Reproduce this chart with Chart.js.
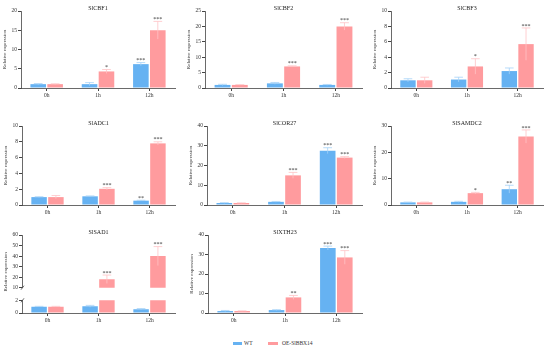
<!DOCTYPE html>
<html>
<head>
<meta charset="utf-8">
<script src="https://cdn.jsdelivr.net/npm/chart.js@4.4.1/dist/chart.umd.min.js"></script>
<style>
  html, body { margin: 0; padding: 0; background: #fff; }
  #wrap { position: relative; width: 550px; height: 350px; overflow: hidden; }
  .leg { position: absolute; font: 5.5px 'Liberation Serif', serif; color: #333; line-height: 6px; }
  .sw { position: absolute; height: 3px; }
</style>
</head>
<body>
<div id="wrap">
  <div class="sw" style="left:233px;top:342px;width:9px;background:#66b2f2"></div>
  <div class="leg" style="left:244px;top:340px">WT</div>
  <div class="sw" style="left:268px;top:342px;width:10px;background:#ff9b9e"></div>
  <div class="leg" style="left:282px;top:340px">OE-SlBBX14</div>
</div>
<script>
// data
const categories = ['0h', '1h', '12h'];
const geneNames = ['SlCBF1', 'SlCBF2', 'SlCBF3', 'SlADC1', 'SlCOR27', 'SlSAMDC2', 'SlSAD1', 'SlXTH23'];

const wtMean = [[1.0, 1.0, 6.2], [1.0, 1.5, 1.0], [1.0, 1.1, 2.2], [1.0, 1.1, 0.55],
                [1.0, 1.6, 27.5], [1.0, 1.2, 6.0], [1.0, 1.05, 0.6], [1.0, 1.5, 33.3]];
const wtErr  = [[0.15, 0.4, 0.4], [0.2, 0.3, 0.15], [0.2, 0.3, 0.4], [0.05, 0.05, 0.05],
                [0.2, 0.2, 1.5], [0.1, 0.2, 1.5], [0.05, 0.15, 0.1], [0.3, 0.2, 1.0]];
const oeMean = [[1.0, 4.3, 15.0], [1.0, 7.0, 20.0], [1.0, 2.8, 5.7], [1.0, 2.05, 7.8],
                [1.0, 15.0, 24.0], [1.0, 4.5, 26.0], [1.0, 18.0, 40.0], [1.0, 8.0, 28.5]];
const oeErr  = [[0.1, 0.5, 2.3], [0.1, 0.2, 1.2], [0.4, 1.0, 2.1], [0.2, 0.15, 0.2],
                [0.1, 1.5, 0.5], [0.1, 0.3, 2.5], [0.05, 4.0, 9.0], [0.1, 1.0, 3.5]];
const wtSig  = [['', '', '***'], ['', '', ''], ['', '', ''], ['', '', '**'],
                ['', '', '***'], ['', '', '**'], ['', '', ''], ['', '', '***']];
const oeSig  = [['', '*', '***'], ['', '***', '***'], ['', '*', '***'], ['', '***', '***'],
                ['', '***', '***'], ['', '*', '***'], ['', '***', '***'], ['', '**', '***']];
const yMax   = [20, 25, 10, 10, 40, 30, 60, 40];
const yStep  = [5, 5, 2, 2, 10, 10, 10, 10];
// broken axis for SlSAD1
const sadLowMax = 2, sadLowStep = 1, sadHighMin = 10;

// chart area boxes [left, top, right, bottom]
const boxes = [[21, 11, 175, 88], [205, 11, 362, 88], [391, 11, 543, 88],
               [22, 126, 175, 205], [207, 126, 362, 205], [391, 126, 543, 205],
               [22, 235, 175, 313], [208, 235, 362, 313]];

const blue = '#66b2f2', pink = '#ff9b9e';
const blueErr = '#a5d2f8', pinkErr = '#ffc3c5';
const axisCol = '#444';
Chart.defaults.font.family = "'Liberation Serif', serif";

const decor = {
  id: 'decor',
  afterDatasetsDraw(chart) {
    const o = chart.options.plugins.decor;
    const ctx = chart.ctx, ca = chart.chartArea, y = chart.scales.y;
    ctx.save();
    ctx.beginPath();
    ctx.rect(ca.left, ca.top - 1, ca.right - ca.left, ca.bottom - ca.top + 1);
    ctx.clip();
    chart.data.datasets.forEach((ds, i) => {
      chart.getDatasetMeta(i).data.forEach((bar, j) => {
        const v = ds.data[j], e = ds.errs[j];
        const yTop = y.getPixelForValue(v + e), yLo = y.getPixelForValue(v - e);
        const half = bar.width * 0.28;
        ctx.strokeStyle = ds.errColor;
        ctx.lineWidth = 0.8;
        ctx.beginPath();
        ctx.moveTo(bar.x, yLo);
        ctx.lineTo(bar.x, yTop);
        ctx.moveTo(bar.x - half, yTop);
        ctx.lineTo(bar.x + half, yTop);
        ctx.stroke();
      });
    });
    ctx.restore();

    ctx.save();
    if (o.stars) {
      ctx.fillStyle = '#333';
      ctx.font = "6px 'Liberation Serif'";
      ctx.textAlign = 'center';
      ctx.textBaseline = 'bottom';
      chart.data.datasets.forEach((ds, i) => {
        chart.getDatasetMeta(i).data.forEach((bar, j) => {
          if (!ds.sig[j]) return;
          const yTop = y.getPixelForValue(ds.data[j] + ds.errs[j]);
          ctx.fillText(ds.sig[j], bar.x, yTop + 1);
        });
      });
    }
    if (o.title) {
      ctx.fillStyle = '#222';
      ctx.font = "6px 'Liberation Serif'";
      ctx.textAlign = 'center';
      ctx.textBaseline = 'middle';
      ctx.fillText(o.title, (ca.left + ca.right) / 2, ca.top - 3);
    }
    if (o.yTitle) {
      ctx.translate(ca.left - 16, (ca.top + ca.bottom + (o.yExtra || 0)) / 2);
      ctx.rotate(-Math.PI / 2);
      ctx.fillStyle = '#333';
      ctx.font = "5px 'Liberation Serif'";
      ctx.textAlign = 'center';
      ctx.textBaseline = 'middle';
      ctx.fillText('Relative expression', 0, 0);
      ctx.setTransform(1, 0, 0, 1, 0, 0);
    }
    if (o.brk) {
      const by = o.brk === 'top' ? ca.top : ca.bottom;
      ctx.strokeStyle = axisCol;
      ctx.lineWidth = 0.8;
      ctx.beginPath();
      ctx.moveTo(ca.left - 1, by + 2);
      ctx.lineTo(ca.left + 2, by - 2);
      ctx.stroke();
    }
    ctx.restore();
  }
};

const wrap = document.getElementById('wrap');
function addCanvas(left, top, w, h) {
  const c = document.createElement('canvas');
  c.width = w; c.height = h;
  c.style.cssText = `position:absolute;left:${left}px;top:${top}px;width:${w}px;height:${h}px`;
  wrap.appendChild(c);
  return c;
}

function drawPanel(g, box, cfg) {
  const [L, T, R, B] = box;
  const padTop = cfg.padTop, padBottom = cfg.padBottom || 0;
  const xH = cfg.showX ? 14 : 0;
  const canvas = addCanvas(L - 22, T - padTop, R - L + 26, B - T + padTop + xH + padBottom);
  const tickFont = { size: 5.5, family: "'Liberation Serif', serif" };
  new Chart(canvas, {
    type: 'bar',
    data: {
      labels: categories,
      datasets: [
        { label: 'WT', data: wtMean[g], errs: wtErr[g], sig: wtSig[g], backgroundColor: blue,
          errColor: blueErr, categoryPercentage: 0.66, barPercentage: 0.92, clip: 0 },
        { label: 'OE-SlBBX14', data: oeMean[g], errs: oeErr[g], sig: oeSig[g], backgroundColor: pink,
          errColor: pinkErr, categoryPercentage: 0.66, barPercentage: 0.92, clip: 0 }
      ]
    },
    options: {
      responsive: false,
      animation: false,
      devicePixelRatio: 1,
      layout: { padding: { top: padTop, right: 4, bottom: padBottom, left: 0 } },
      plugins: {
        legend: { display: false },
        tooltip: { enabled: false },
        decor: { title: cfg.title, stars: cfg.stars, yTitle: cfg.yTitle, yExtra: cfg.yExtra, brk: cfg.brk }
      },
      scales: {
        x: {
          display: cfg.showX,
          grid: { display: true, drawOnChartArea: false, drawTicks: true, tickLength: 3, offset: false, color: axisCol },
          border: { color: axisCol, width: 0.8 },
          ticks: { font: tickFont, color: '#333', padding: 1 },
          afterFit: s => { if (cfg.showX) s.height = 14; }
        },
        y: {
          min: cfg.min, max: cfg.max,
          grid: { drawOnChartArea: false, drawTicks: true, tickLength: 3, color: axisCol },
          border: { color: axisCol, width: 0.8 },
          ticks: { stepSize: cfg.step, font: tickFont, color: '#333', padding: 1 },
          afterFit: s => { s.width = 22; }
        }
      }
    },
    plugins: [decor]
  });
}

geneNames.forEach((name, g) => {
  if (name === 'SlSAD1') {
    const [L, T, R, B] = boxes[g];
    const lowTop = B - 14, highBottom = B - 21;
    drawPanel(g, [L, T, R, highBottom], { padTop: 10, showX: false, min: sadHighMin, max: yMax[g], step: yStep[g],
      title: name, stars: true, yTitle: true, yExtra: B - highBottom, brk: 'bottom' });
    drawPanel(g, [L, lowTop, R, B], { padTop: 3, showX: true, min: 0, max: sadLowMax, step: sadLowStep,
      stars: false, yTitle: false, brk: 'top' });
  } else {
    drawPanel(g, boxes[g], { padTop: 10, showX: true, min: 0, max: yMax[g], step: yStep[g],
      title: name, stars: true, yTitle: true });
  }
});
</script>
</body>
</html>
